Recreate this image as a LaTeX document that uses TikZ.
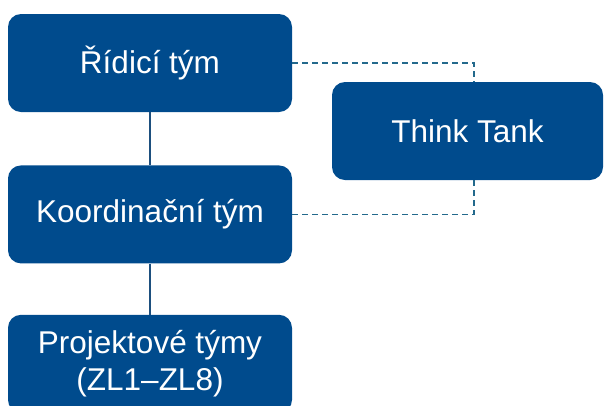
\documentclass[tikz,border=0pt]{standalone}
\usepackage{fontspec}
\setmainfont{Liberation Sans}
\usetikzlibrary{positioning}
\definecolor{BoxColor}{RGB}{0,75,141}
\definecolor{LinkColor}{RGB}{29,79,126}
\definecolor{DashColor}{RGB}{35,105,140}
\tikzset{
  team/.style={rectangle, rounded corners=13pt, fill=BoxColor, text=white, minimum width=284pt, minimum height=98pt, align=center, inner sep=0pt, font=\fontsize{31.5}{37}\selectfont},
  solid link/.style={line width=2pt, LinkColor},
  dashed link/.style={line width=1.8pt, DashColor, dash pattern=on 6pt off 4pt}
}

\begin{document}
\begin{tikzpicture}[x=1pt, y=-1pt]
  \useasboundingbox (0,0) rectangle (604,405);
  \clip (0,0) rectangle (604,405);

  % Team hierarchy
  \node[team] (steer) at (150,63) {Řídicí tým};
  \node[team, below=53pt of steer] (coord) {Koordinační tým};
  \node[team, below=51pt of coord] (proj) {Projektové týmy\\(ZL1–ZL8)};

  % Think tank
  \node[team, minimum width=271pt] (tank) at (467.5,131) {Think Tank};
  \coordinate (tankx) at (474,131);

  % Links
  \draw[solid link] (steer.south) -- (coord.north);
  \draw[solid link] (coord.south) -- (proj.north);
  \draw[dashed link] (steer.east) -| (tankx |- tank.north);
  \draw[dashed link] (coord.east) -| (tankx |- tank.south);
\end{tikzpicture}
\end{document}
